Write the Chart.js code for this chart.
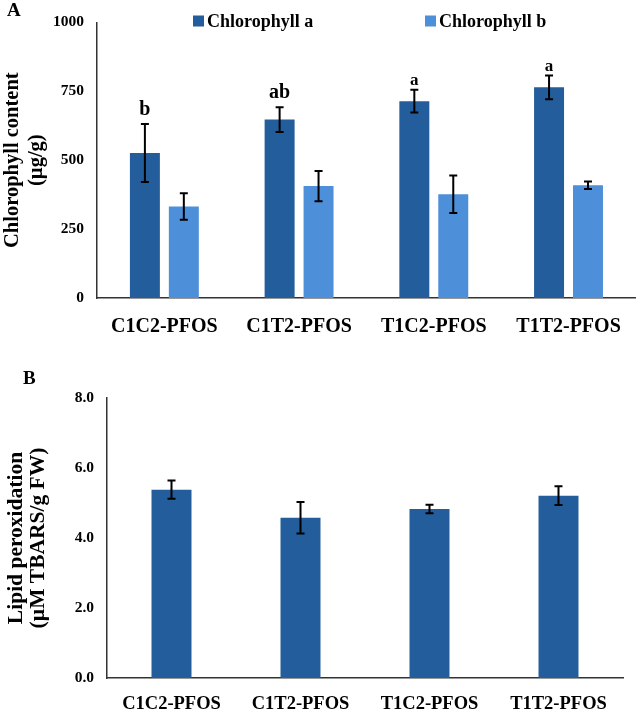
<!DOCTYPE html>
<html>
<head>
<meta charset="utf-8">
<script src="https://cdn.jsdelivr.net/npm/chart.js@4.4.0/dist/chart.umd.min.js"></script>
<style>
  body { margin: 0; background: #fff; }
  #wrapA { position: absolute; left: 0; top: 0; width: 638px; height: 345px; }
  #wrapB { position: absolute; left: 0; top: 345px; width: 638px; height: 367px; }
</style>
</head>
<body>
<div id="wrapA"><canvas id="chartA"></canvas></div>
<div id="wrapB"><canvas id="chartB"></canvas></div>
<script>
const categories = ['C1C2-PFOS', 'C1T2-PFOS', 'T1C2-PFOS', 'T1T2-PFOS'];

// Panel A - chlorophyll content (µg/g)
const chlA = [526, 647, 714, 764];
const chlAErr = [105, 45, 41, 43];
const chlALetters = ['b', 'ab', 'a', 'a'];
const chlB = [332, 406, 376, 409];
const chlBErr = [48, 55, 68, 14];
const chlTicks = [0, 250, 500, 750, 1000];

// Panel B - lipid peroxidation (µM TBARS/g FW)
const lipid = [5.38, 4.58, 4.83, 5.21];
const lipidErr = [0.26, 0.45, 0.12, 0.27];
const lipidTicks = [0, 2, 4, 6, 8];

const DARK = '#235D9B';
const LIGHT = '#4D8FD9';
const SERIF = "'Liberation Serif', 'Times New Roman', serif";

Chart.defaults.font.family = SERIF;
Chart.defaults.font.weight = 'bold';
Chart.defaults.color = '#000';
Chart.defaults.animation = false;

// error bars + significance letters
const errorBars = {
  id: 'errorBars',
  afterDatasetsDraw(chart) {
    const ctx = chart.ctx;
    const y = chart.scales.y;
    ctx.save();
    chart.data.datasets.forEach((ds, di) => {
      if (!ds.errors) return;
      chart.getDatasetMeta(di).data.forEach((bar, i) => {
        const v = ds.data[i], e = ds.errors[i];
        const top = y.getPixelForValue(v + e);
        const bot = y.getPixelForValue(v - e);
        ctx.strokeStyle = '#000';
        ctx.lineWidth = 2;
        ctx.beginPath();
        ctx.moveTo(bar.x, top); ctx.lineTo(bar.x, bot);
        ctx.moveTo(bar.x - 4, top); ctx.lineTo(bar.x + 4, top);
        ctx.moveTo(bar.x - 4, bot); ctx.lineTo(bar.x + 4, bot);
        ctx.stroke();
        if (ds.letters) {
          // the single "a" marks are set a bit smaller in the figure
          const small = ds.letters[i] === 'a';
          ctx.fillStyle = '#000';
          ctx.font = 'bold ' + (small ? 17 : 20) + 'px ' + SERIF;
          ctx.textAlign = 'center';
          ctx.textBaseline = 'alphabetic';
          ctx.fillText(ds.letters[i], bar.x, top - (small ? 5 : 9));
        }
      });
    });
    ctx.restore();
  }
};

// panel letter and (for A) the legend
const decorations = {
  id: 'decorations',
  afterDraw(chart, args, opts) {
    const ctx = chart.ctx;
    ctx.save();
    ctx.fillStyle = '#000';
    ctx.font = 'bold 19px ' + SERIF;
    ctx.textAlign = 'left';
    ctx.textBaseline = 'middle';
    ctx.fillText(opts.panel, opts.panelX, opts.panelY);
    if (opts.legendX) {
      ctx.font = 'bold 18px ' + SERIF;
      chart.data.datasets.forEach((ds, i) => {
        const x = opts.legendX[i];
        ctx.fillStyle = ds.backgroundColor;
        ctx.fillRect(x, opts.legendY - 5.5, 11, 11);
        ctx.fillStyle = '#000';
        ctx.fillText(ds.label, x + 14, opts.legendY + 1);
      });
    }
    ctx.restore();
  }
};

function yScale(ticks, max, fmt, title, titleSize, titleLH, titlePad, width) {
  return {
    min: 0,
    max: max,
    afterBuildTicks: s => { s.ticks = ticks.map(v => ({ value: v })); },
    afterFit: s => { s.width = width; },
    grid: { display: false, drawTicks: false },
    border: { display: true, color: '#333', width: 1.5 },
    ticks: { padding: 13, font: { size: 15.5, weight: 'bold' }, callback: fmt },
    title: {
      display: true,
      text: title,
      font: { size: titleSize, weight: 'bold', lineHeight: titleLH },
      padding: { top: titlePad, bottom: 0 }
    }
  };
}

function xScale(height, size, pad) {
  return {
    afterFit: s => { s.height = height; },
    grid: { display: false, drawTicks: false },
    border: { display: true, color: '#333', width: 1.5 },
    ticks: { padding: pad, font: { size: size, weight: 'bold' }, maxRotation: 0, autoSkip: false }
  };
}

new Chart(document.getElementById('chartA'), {
  type: 'bar',
  data: {
    labels: categories,
    datasets: [
      { label: 'Chlorophyll a', data: chlA, errors: chlAErr, letters: chlALetters,
        backgroundColor: DARK, categoryPercentage: 0.578, barPercentage: 0.77 },
      { label: 'Chlorophyll b', data: chlB, errors: chlBErr,
        backgroundColor: LIGHT, categoryPercentage: 0.578, barPercentage: 0.77 }
    ]
  },
  options: {
    responsive: true,
    maintainAspectRatio: false,
    layout: { padding: { top: 22, right: 2, left: 0, bottom: 0 } },
    plugins: {
      legend: { display: false },
      tooltip: { enabled: false },
      decorations: { panel: 'A', panelX: 7, panelY: 11, legendX: [193, 425], legendY: 21 }
    },
    scales: {
      x: xScale(47, 20, 17),
      y: yScale(chlTicks, 1000, v => v, ['Chlorophyll content', '(µg/g)'], 20.5, 1.2, 0, 97)
    }
  },
  plugins: [errorBars, decorations]
});

new Chart(document.getElementById('chartB'), {
  type: 'bar',
  data: {
    labels: categories,
    datasets: [
      { label: 'Lipid peroxidation', data: lipid, errors: lipidErr,
        backgroundColor: DARK, categoryPercentage: 1, barPercentage: 0.31 }
    ]
  },
  options: {
    responsive: true,
    maintainAspectRatio: false,
    layout: { padding: { top: 53, right: 15, left: 0, bottom: 0 } },
    plugins: {
      legend: { display: false },
      tooltip: { enabled: false },
      decorations: { panel: 'B', panelX: 23, panelY: 34 }
    },
    scales: {
      x: xScale(34, 18.5, 15),
      y: yScale(lipidTicks, 8, v => v.toFixed(1), ['Lipid peroxidation', '(µM TBARS/g FW)'], 21.5, 1.0, 6, 107)
    }
  },
  plugins: [errorBars, decorations]
});
</script>
</body>
</html>
